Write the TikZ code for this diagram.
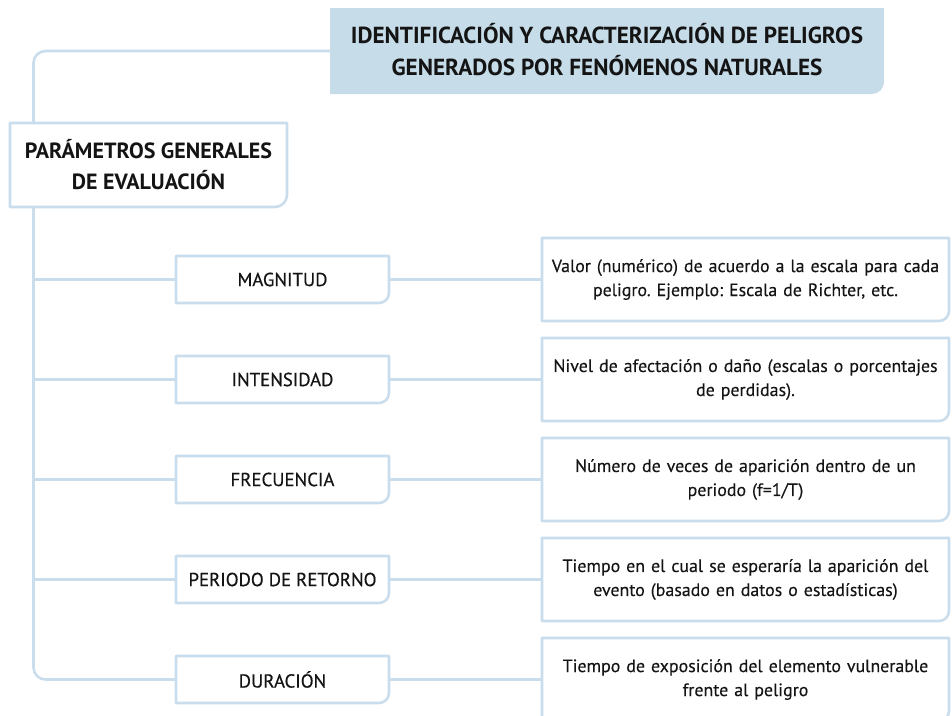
\documentclass[tikz,border=0pt]{standalone}
\usepackage{fontspec}
\setmainfont{PT Sans}
\newfontfamily\labfont[FakeBold=0.5]{PT Sans}
\newfontfamily\descfont[FakeBold=0.25]{PT Sans}
\definecolor{bl}{HTML}{C9DDEC}
\definecolor{tf}{HTML}{C6DCE9}
\definecolor{ink}{HTML}{141414}
\tikzset{
  bline/.style={draw=bl, line width=2.6pt, line join=round},
  lab/.style={draw=none, inner sep=0pt, outer sep=0pt, minimum width=213pt, minimum height=47pt,
     text=ink, font=\labfont\fontsize{18.8}{21}\selectfont, align=center},
  desc/.style={draw=none, inner sep=0pt, outer sep=0pt, minimum width=407pt, minimum height=83pt,
     text width=405pt, text=ink, font=\descfont\fontsize{17.9}{24}\selectfont, align=center},
  head/.style={draw=none, inner sep=0pt, outer sep=0pt, align=center, text=ink,
     font=\bfseries\fontsize{23.2}{32}\selectfont},
}
\newcommand\brbox[2][10]{\draw[bline] (#2.north west) -- (#2.north east) -- ([yshift=#1pt]#2.south east) arc[start angle=0,end angle=-90,radius=#1pt] -- (#2.south west) -- cycle;}
\frenchspacing
\begin{document}
\begin{tikzpicture}[x=1pt,y=1pt]
\useasboundingbox (0,0) rectangle (952,-715);
\clip (0,0) rectangle (952,-715);
% title
\node[head, minimum width=554pt, minimum height=86pt] (title) at (607,-51) {};
\fill[tf] (title.north west) -- (title.north east) -- ([yshift=12pt]title.south east) arc[start angle=0,end angle=-90,radius=12pt] -- (title.south west) -- cycle;
\node[head] at ([yshift=1pt]title.center) {IDENTIFICACIÓN Y CARACTERIZACIÓN DE PELIGROS\\GENERADOS POR FENÓMENOS NATURALES};
% param box
\node[head, font=\bfseries\fontsize{22}{31}\selectfont, minimum width=277pt, minimum height=84pt] (param) at (148.5,-165) {PARÁMETROS GENERALES\\DE EVALUACIÓN};
\brbox[12]{param}
\coordinate (spine) at (33.5,0);
% rows
\node[lab] (mag) at (282.5,-279.5) {MAGNITUD};
\node[lab] (int) at (282.5,-379.5) {INTENSIDAD};
\node[lab] (fre) at (282.5,-479.5) {FRECUENCIA};
\node[lab] (per) at (282.5,-579.5) {PERIODO DE RETORNO};
\node[lab] (dur) at (282.5,-679.5) {DURACIÓN};
\node[desc] (dmag) at (745.5,-279.5) {Valor (numérico) de acuerdo a la escala para cada\\peligro. Ejemplo: Escala de Richter, etc.};
\node[desc] (dint) at (745.5,-379.5) {Nivel de afectación o daño (escalas o porcentajes\\de perdidas).};
\node[desc] (dfre) at (745.5,-479.5) {Número de veces de aparición dentro de un\\periodo (f=1/T)};
\node[desc] (dper) at (745.5,-579.5) {Tiempo en el cual se esperaría la aparición del\\evento (basado en datos o estadísticas)};
\node[desc] (ddur) at (745.5,-679.5) {Tiempo de exposición del elemento vulnerable\\frente al peligro};
\foreach \n in {mag,int,fre,per,dur}{\brbox{\n}}
\foreach \n in {dmag,dint,dfre,dper,ddur}{\brbox{\n}}
% connectors
\draw[bline, rounded corners=12pt] (title.west) -| (spine |- param.north);
\draw[bline, rounded corners=12pt] (spine |- param.south) |- (dur.west);
\foreach \n in {mag,int,fre,per}{\draw[bline] (spine |- \n.west) -- (\n.west);}
\draw[bline] (mag.east) -- (mag.east -| dmag.west);
\draw[bline] (int.east) -- (int.east -| dint.west);
\draw[bline] (fre.east) -- (fre.east -| dfre.west);
\draw[bline] (per.east) -- (per.east -| dper.west);
\draw[bline] (dur.east) -- (dur.east -| ddur.west);
\end{tikzpicture}
\end{document}
